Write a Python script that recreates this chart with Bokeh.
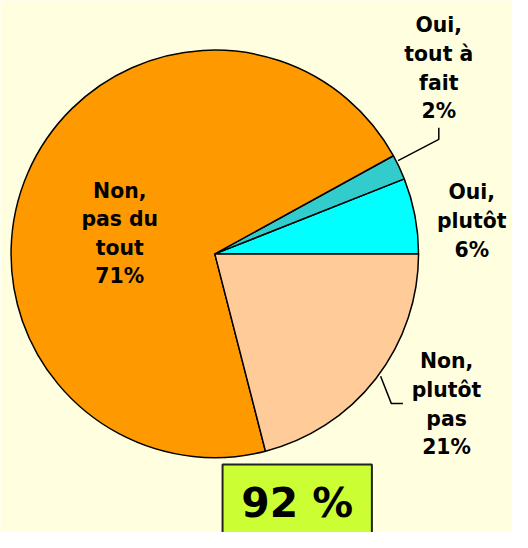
import numpy as np
from bokeh.plotting import figure
from bokeh.models import Range1d, ColumnDataSource
from bokeh.core.properties import value
from bokeh.embed import file_html
from bokeh.resources import INLINE

# ---- data ----
categories = ["Oui, plutôt", "Oui, tout à fait", "Non, pas du tout", "Non, plutôt pas"]
percents = [6, 2, 71, 21]
colors = ["#00FFFF", "#33CCCC", "#FF9900", "#FFCC99"]
label_texts = ["Oui,\nplutôt\n6%", "Oui,\ntout à\nfait\n2%", "Non,\npas du\ntout\n71%", "Non,\nplutôt\npas\n21%"]
total_text = "92 %"

W, H = 512, 532
RW, RH = 528, 548
SX, SY = W / RW, H / RH
S = (SX + SY) / 2
BG = "#FFFFE0"
FONT = "DejaVu Sans"

def px(x, y):
    return x * SX, H - y * SY

p = figure(width=W, height=H, output_backend="svg", toolbar_location=None,
           x_range=Range1d(0, W), y_range=Range1d(0, H), min_border=0)
p.axis.visible = False
p.grid.visible = False
p.outline_line_color = None
p.background_fill_color = BG
p.border_fill_color = BG

# pie
vals = np.array(percents, dtype=float)
ends = np.cumsum(vals) / vals.sum() * 2 * np.pi
starts = np.concatenate([[0.0], ends[:-1]])
cx, cy = px(221, 261)
src = ColumnDataSource(dict(start=starts, end=ends, color=colors, cat=categories))
p.wedge(x=cx, y=cy, radius=210 * S, start_angle="start", end_angle="end",
        direction="anticlock", fill_color="color", line_color="black",
        line_width=1.5, source=src)

# leader lines
lx, ly = zip(*[px(410, 165), px(452, 143), px(452, 131)])
p.line(list(lx), list(ly), line_color="black", line_width=1.5)
lx, ly = zip(*[px(392, 387), px(403, 415), px(415, 415)])
p.line(list(lx), list(ly), line_color="black", line_width=1.5)

# labels (block centers in reference pixel coordinates)
centers = [(486, 227), (452, 70), (123, 240), (460, 416)]
spacing = 29.5
xs, ys, ts = [], [], []
for txt, (bx, by) in zip(label_texts, centers):
    lines = txt.split("\n")
    n = len(lines)
    for i, ln in enumerate(lines):
        yy = by + (i - (n - 1) / 2) * spacing
        X, Y = px(bx, yy)
        xs.append(X); ys.append(Y); ts.append(ln)
p.text(x=xs, y=ys, text=ts, text_font=value(FONT), text_font_style="bold",
       text_font_size="%.1fpx" % (21 * S), text_align="center", text_baseline="middle",
       text_color="black")

# total box
bx0, by0 = px(229, 478)
bx1, by1 = px(383, 560)
p.quad(left=bx0, right=bx1, top=by0, bottom=by1, fill_color="#CCFF33",
       line_color="#222222", line_width=2)
tx, ty = px(306, 518)
p.text(x=[tx], y=[ty], text=[total_text], text_font=value(FONT), text_font_style="bold",
       text_font_size="%.1fpx" % (42 * S), text_align="center", text_baseline="middle",
       text_color="black")

html = file_html(p, INLINE)
html = html.replace("<body>", '<body style="background:%s">' % BG, 1)
open("out.html", "w").write(html)
